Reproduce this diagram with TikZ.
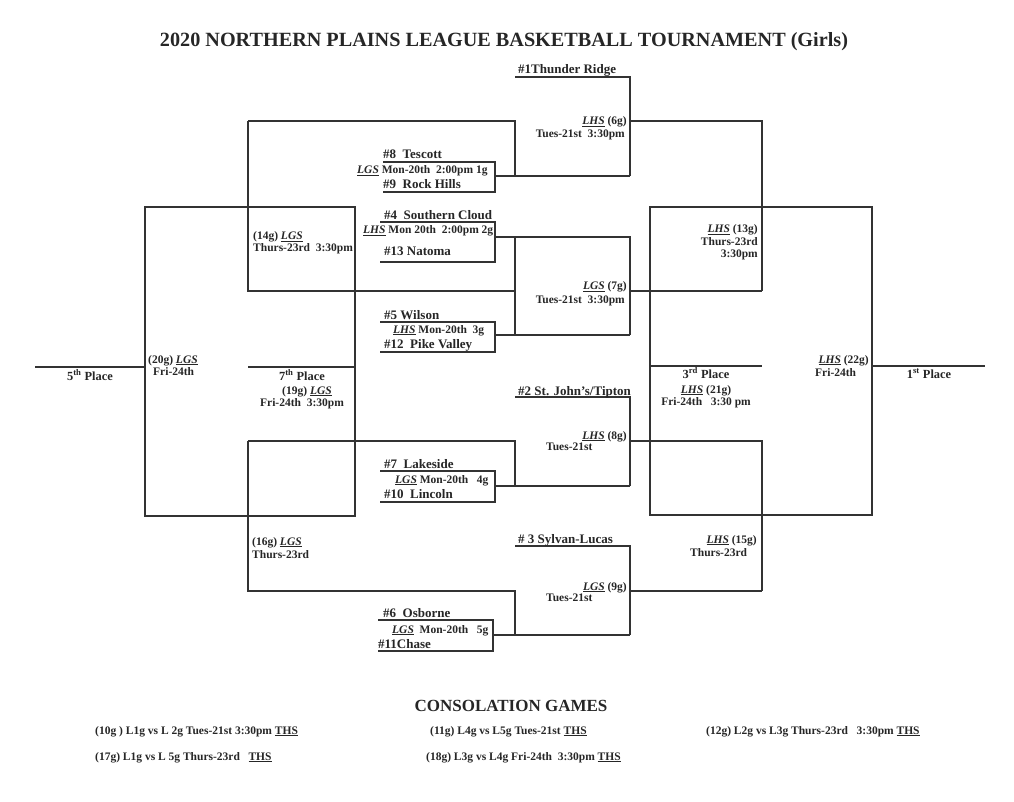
\documentclass[tikz,border=0pt]{standalone}
\usepackage{fontspec}
\setmainfont{Liberation Serif}
\newcommand\ulit[1]{\underline{\textit{#1}}}
\begin{document}
\begin{tikzpicture}[x=1pt,y=-1pt,
  ln/.style={line width=1.3pt,draw=black!80},
  team/.style={font=\fontsize{13}{14}\selectfont\bfseries,inner sep=0pt,text=black!85},
  lab/.style={font=\fontsize{11.5}{12}\selectfont\bfseries,inner sep=0pt,text=black!85},
  place/.style={font=\fontsize{12.4}{13}\selectfont\bfseries,inner sep=0pt,text=black!85},
  cons/.style={font=\fontsize{11.5}{12}\selectfont\bfseries,inner sep=0pt,text=black!85,anchor=base west}]
\useasboundingbox[fill=white] (0,0) rectangle (1014,802);

% ---------- coordinates ----------
\coordinate (LBa) at (145,207); \coordinate (LBb) at (355,516);
\coordinate (RBa) at (650,207); \coordinate (RBb) at (872,515);
\coordinate (p5a) at (35,367);  \coordinate (p5b) at (145,367);
\coordinate (p7a) at (248,367); \coordinate (p7b) at (355,367);
\coordinate (p3a) at (650,366); \coordinate (p3b) at (762,366);
\coordinate (p1a) at (872,366); \coordinate (p1b) at (985,366);
% game boxes
\coordinate (g1a) at (383,162); \coordinate (g1b) at (495,192);
\coordinate (g2a) at (380,222); \coordinate (g2b) at (495,262);
\coordinate (g3a) at (380,322); \coordinate (g3b) at (495,352);
\coordinate (g4a) at (380,471); \coordinate (g4b) at (495,502);
\coordinate (g5a) at (378,620); \coordinate (g5b) at (493,651);
% game outputs
\coordinate (o1) at (495,176); \coordinate (o2) at (495,237);
\coordinate (o3) at (495,335); \coordinate (o4) at (495,486);
\coordinate (o5) at (493,635);
% seeds
\coordinate (s1) at (515,77);  \coordinate (s2) at (515,397); \coordinate (s3) at (515,546);
% second round brackets
\coordinate (b6) at (630,121); \coordinate (b7) at (630,291);
\coordinate (b8) at (630,441); \coordinate (b9) at (630,591);
% loser brackets
\coordinate (l14a) at (248,121); \coordinate (l14b) at (248,291);
\coordinate (l16a) at (248,441); \coordinate (l16b) at (248,591);
% semifinal verticals
\coordinate (w13a) at (762,121); \coordinate (w13b) at (762,291);
\coordinate (w15a) at (762,441); \coordinate (w15b) at (762,591);

% ---------- lines ----------
\draw[ln] (LBa) rectangle (LBb);
\draw[ln] (RBa) rectangle (RBb);
\draw[ln] (p5a) -- (p5b);
\draw[ln] (p7a) -- (p7b);
\draw[ln] (p3a) -- (p3b);
\draw[ln] (p1a) -- (p1b);

\draw[ln] (g1a) -| (g1b) -- (g1a |- g1b);
\draw[ln] (g2a) -| (g2b) -- (g2a |- g2b);
\draw[ln] (g3a) -| (g3b) -- (g3a |- g3b);
\draw[ln] (g4a) -| (g4b) -- (g4a |- g4b);
\draw[ln] (g5a) -| (g5b) -- (g5a |- g5b);

% top quarter
\draw[ln] (s1) -- (s1 -| b6) -- (b6 |- o1);
\draw[ln] (o1) -- (b6 |- o1);
\draw[ln] (l14a) -- (s1 |- l14a) -- (s1 |- o1);
\draw[ln] (b6) -- (w13a) -- (w13b);
\draw[ln] (l14a) -- (l14b) -- (s1 |- l14b);
% second quarter
\draw[ln] (o2) -- (b7 |- o2) -- (b7 |- o3);
\draw[ln] (s1 |- o2) -- (s1 |- o3);
\draw[ln] (o3) -- (b7 |- o3);
\draw[ln] (b7) -- (w13b);
% third quarter
\draw[ln] (s2) -- (s2 -| b8) -- (b8 |- o4);
\draw[ln] (o4) -- (b8 |- o4);
\draw[ln] (l16a) -- (s2 |- l16a) -- (s2 |- o4);
\draw[ln] (b8) -- (w15a) -- (w15b);
% bottom quarter
\draw[ln] (l16a) -- (l16b) -- (s3 |- l16b) -- (s3 |- o5);
\draw[ln] (s3) -- (s3 -| b9) -- (b9 |- o5);
\draw[ln] (o5) -- (b9 |- o5);
\draw[ln] (b9) -- (w15b);

% ---------- title ----------
\node[inner sep=0pt,anchor=base,font=\fontsize{20.2}{22}\selectfont\bfseries,text=black!85] (title) at (504,47)
  {2020 NORTHERN PLAINS LEAGUE BASKETBALL TOURNAMENT (Girls)};

% ---------- teams ----------
\node[team,anchor=base west] (t1)  at (518,74)  {\#1Thunder Ridge};
\node[team,anchor=base west] (t8)  at (383,159) {\#8\ \ Tescott};
\node[team,anchor=base west] (t9)  at (383,189) {\#9\ \ Rock Hills};
\node[team,anchor=base west] (t4)  at (384,220) {\#4\ \ Southern Cloud};
\node[team,anchor=base west] (t13) at (384,255) {\#13 Natoma};
\node[team,anchor=base west] (t5)  at (384,319) {\#5 Wilson};
\node[team,anchor=base west] (t12) at (384,348) {\#12\ \ Pike Valley};
\node[team,anchor=base west] (t2)  at (518,395) {\#2 St. John's/Tipton};
\node[team,anchor=base west] (t7)  at (384,468) {\#7\ \ Lakeside};
\node[team,anchor=base west] (t10) at (384,498) {\#10\ \ Lincoln};
\node[team,anchor=base west] (t3)  at (518,543) {\# 3 Sylvan-Lucas};
\node[team,anchor=base west] (t6)  at (383,617) {\#6\ \ Osborne};
\node[team,anchor=base west] (t11) at (378,648) {\#11Chase};

% ---------- first round labels ----------
\node[lab,anchor=base west] (m1) at (357,174) {\ulit{LGS} Mon-20th\ \ 2:00pm 1g};
\node[lab,anchor=base west] (m2) at (363,234) {\ulit{LHS} Mon 20th\ \ 2:00pm 2g};
\node[lab,anchor=base west] (m3) at (393,333) {\ulit{LHS} Mon-20th\ \ 3g};
\node[lab,anchor=base west] (m4) at (395,483) {\ulit{LGS} Mon-20th\ \ \ 4g};
\node[lab,anchor=base west] (m5) at (392,633) {\ulit{LGS}\ \ Mon-20th\ \ \ 5g};

% ---------- second round labels ----------
\node[lab,anchor=base east] (m6)  at (627,125) {\ulit{LHS} (6g)};
\node[lab,anchor=base east] (m6b) at (625,138) {Tues-21st\ \ 3:30pm};
\node[lab,anchor=base east] (m7)  at (627,290) {\ulit{LGS} (7g)};
\node[lab,anchor=base east] (m7b) at (625,303) {Tues-21st\ \ 3:30pm};
\node[lab,anchor=base east] (m8)  at (627,439) {\ulit{LHS} (8g)};
\node[lab,anchor=base west] (m8b) at (546,450) {Tues-21st};
\node[lab,anchor=base east] (m9)  at (627,590) {\ulit{LGS} (9g)};
\node[lab,anchor=base west] (m9b) at (546,601) {Tues-21st};

% ---------- loser bracket labels ----------
\node[lab,anchor=base west] (m14)  at (253,240) {(14g) \ulit{LGS}};
\node[lab,anchor=base west] (m14b) at (253,252) {Thurs-23rd\ \ 3:30pm};
\node[lab,anchor=base west] (m16)  at (252,545) {(16g) \ulit{LGS}};
\node[lab,anchor=base west] (m16b) at (252,558) {Thurs-23rd};
\node[lab,anchor=base west] (m20)  at (148,363) {(20g) \ulit{LGS}};
\node[lab,anchor=base west] (m20b) at (153,375) {Fri-24th};
\node[place,anchor=base] (pl7) at (302,380) {7\textsuperscript{th} Place};
\node[lab,anchor=base] (m19)  at (307,394) {(19g) \ulit{LGS}};
\node[lab,anchor=base] (m19b) at (302,406) {Fri-24th\ \ 3:30pm};
\node[place,anchor=base] (pl5) at (90,380) {5\textsuperscript{th} Place};

% ---------- winner bracket labels ----------
\node[lab,anchor=base east] (m13)  at (758,233) {\ulit{LHS} (13g)};
\node[lab,anchor=base east] (m13b) at (758,246) {Thurs-23rd};
\node[lab,anchor=base east] (m13c) at (758,258) {3:30pm};
\node[lab,anchor=base east] (m15)  at (757,543) {\ulit{LHS} (15g)};
\node[lab,anchor=base west] (m15b) at (690,556) {Thurs-23rd};
\node[place,anchor=base] (pl3) at (706,378) {3\textsuperscript{rd} Place};
\node[lab,anchor=base] (m21)  at (706,393) {\ulit{LHS} (21g)};
\node[lab,anchor=base] (m21b) at (706,405) {Fri-24th\ \ \ 3:30 pm};
\node[lab,anchor=base east] (m22)  at (869,363) {\ulit{LHS} (22g)};
\node[lab,anchor=base west] (m22b) at (815,376) {Fri-24th};
\node[place,anchor=base] (pl1) at (929,378) {1\textsuperscript{st} Place};

% ---------- consolation ----------
\node[inner sep=0pt,anchor=base,font=\fontsize{17}{18}\selectfont\bfseries,text=black!85] (cg) at (511,711) {CONSOLATION GAMES};
\node[cons] (c10) at (95,734)  {(10g ) L1g vs L 2g Tues-21st 3:30pm \underline{THS}};
\node[cons] (c11) at (430,734) {(11g) L4g vs L5g Tues-21st \underline{THS}};
\node[cons] (c12) at (706,734) {(12g) L2g vs L3g Thurs-23rd\ \ \ 3:30pm \underline{THS}};
\node[cons] (c17) at (95,760)  {(17g) L1g vs L 5g Thurs-23rd\ \ \ \underline{THS}};
\node[cons] (c18) at (426,760) {(18g) L3g vs L4g Fri-24th\ \ 3:30pm \underline{THS}};
\end{tikzpicture}
\end{document}
